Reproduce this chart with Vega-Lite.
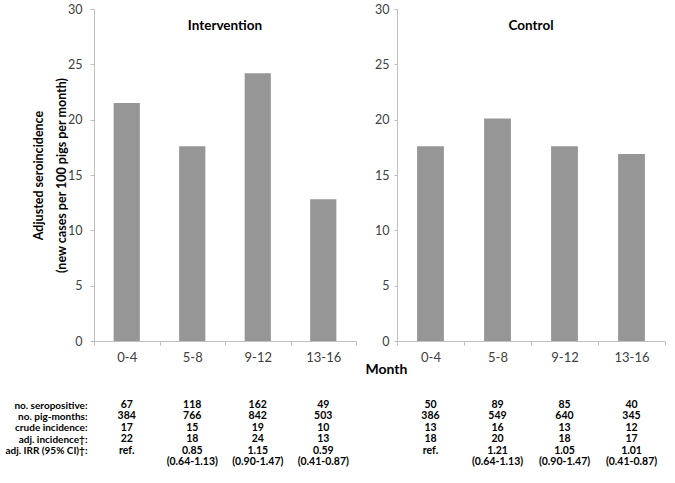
{
  "$schema": "https://vega.github.io/schema/vega-lite/v6.json",
  "padding": {"left": 4, "top": 3, "right": 5, "bottom": 5},
  "background": "white",
  "bounds": "flush",
  "spacing": 41,
  "config": {
    "font": "Lato",
    "view": {"stroke": null},
    "axis": {"grid": false, "domainColor": "#BFBFBF", "tickColor": "#BFBFBF", "labelColor": "#404040", "labelFont": "Lato", "titleFont": "Lato"},
    "title": {"font": "Lato"}
  },
  "datasets": {
    "bars": [
      {"group": "Intervention", "month": "0-4", "value": 21.5},
      {"group": "Intervention", "month": "5-8", "value": 17.6},
      {"group": "Intervention", "month": "9-12", "value": 24.2},
      {"group": "Intervention", "month": "13-16", "value": 12.8},
      {"group": "Control", "month": "0-4", "value": 17.6},
      {"group": "Control", "month": "5-8", "value": 20.1},
      {"group": "Control", "month": "9-12", "value": 17.6},
      {"group": "Control", "month": "13-16", "value": 16.9}
    ],
    "table": [
      {"group": "Intervention", "row": "no. seropositive:", "month": "0-4", "text": "67"},
      {"group": "Intervention", "row": "no. seropositive:", "month": "5-8", "text": "118"},
      {"group": "Intervention", "row": "no. seropositive:", "month": "9-12", "text": "162"},
      {"group": "Intervention", "row": "no. seropositive:", "month": "13-16", "text": "49"},
      {"group": "Intervention", "row": "no. pig-months:", "month": "0-4", "text": "384"},
      {"group": "Intervention", "row": "no. pig-months:", "month": "5-8", "text": "766"},
      {"group": "Intervention", "row": "no. pig-months:", "month": "9-12", "text": "842"},
      {"group": "Intervention", "row": "no. pig-months:", "month": "13-16", "text": "503"},
      {"group": "Intervention", "row": "crude incidence:", "month": "0-4", "text": "17"},
      {"group": "Intervention", "row": "crude incidence:", "month": "5-8", "text": "15"},
      {"group": "Intervention", "row": "crude incidence:", "month": "9-12", "text": "19"},
      {"group": "Intervention", "row": "crude incidence:", "month": "13-16", "text": "10"},
      {"group": "Intervention", "row": "adj. incidence†:", "month": "0-4", "text": "22"},
      {"group": "Intervention", "row": "adj. incidence†:", "month": "5-8", "text": "18"},
      {"group": "Intervention", "row": "adj. incidence†:", "month": "9-12", "text": "24"},
      {"group": "Intervention", "row": "adj. incidence†:", "month": "13-16", "text": "13"},
      {"group": "Intervention", "row": "adj. IRR (95% CI)†:", "month": "0-4", "text": "ref."},
      {"group": "Intervention", "row": "adj. IRR (95% CI)†:", "month": "5-8", "text": "0.85"},
      {"group": "Intervention", "row": "adj. IRR (95% CI)†:", "month": "9-12", "text": "1.15"},
      {"group": "Intervention", "row": "adj. IRR (95% CI)†:", "month": "13-16", "text": "0.59"},
      {"group": "Intervention", "row": "ci", "month": "5-8", "text": "(0.64-1.13)"},
      {"group": "Intervention", "row": "ci", "month": "9-12", "text": "(0.90-1.47)"},
      {"group": "Intervention", "row": "ci", "month": "13-16", "text": "(0.41-0.87)"},
      {"group": "Control", "row": "no. seropositive:", "month": "0-4", "text": "50"},
      {"group": "Control", "row": "no. seropositive:", "month": "5-8", "text": "89"},
      {"group": "Control", "row": "no. seropositive:", "month": "9-12", "text": "85"},
      {"group": "Control", "row": "no. seropositive:", "month": "13-16", "text": "40"},
      {"group": "Control", "row": "no. pig-months:", "month": "0-4", "text": "386"},
      {"group": "Control", "row": "no. pig-months:", "month": "5-8", "text": "549"},
      {"group": "Control", "row": "no. pig-months:", "month": "9-12", "text": "640"},
      {"group": "Control", "row": "no. pig-months:", "month": "13-16", "text": "345"},
      {"group": "Control", "row": "crude incidence:", "month": "0-4", "text": "13"},
      {"group": "Control", "row": "crude incidence:", "month": "5-8", "text": "16"},
      {"group": "Control", "row": "crude incidence:", "month": "9-12", "text": "13"},
      {"group": "Control", "row": "crude incidence:", "month": "13-16", "text": "12"},
      {"group": "Control", "row": "adj. incidence†:", "month": "0-4", "text": "18"},
      {"group": "Control", "row": "adj. incidence†:", "month": "5-8", "text": "20"},
      {"group": "Control", "row": "adj. incidence†:", "month": "9-12", "text": "18"},
      {"group": "Control", "row": "adj. incidence†:", "month": "13-16", "text": "17"},
      {"group": "Control", "row": "adj. IRR (95% CI)†:", "month": "0-4", "text": "ref."},
      {"group": "Control", "row": "adj. IRR (95% CI)†:", "month": "5-8", "text": "1.21"},
      {"group": "Control", "row": "adj. IRR (95% CI)†:", "month": "9-12", "text": "1.05"},
      {"group": "Control", "row": "adj. IRR (95% CI)†:", "month": "13-16", "text": "1.01"},
      {"group": "Control", "row": "ci", "month": "5-8", "text": "(0.64-1.13)"},
      {"group": "Control", "row": "ci", "month": "9-12", "text": "(0.90-1.47)"},
      {"group": "Control", "row": "ci", "month": "13-16", "text": "(0.41-0.87)"}
    ]
  },
  "hconcat": [
    {
      "width": 262,
      "height": 332,
      "title": {"text": "Intervention", "offset": -36, "fontSize": 13.5, "fontWeight": "bold", "color": "black", "anchor": "middle", "frame": "group", "baseline": "middle"},
      "layer": [
        {
          "data": {"name": "bars"},
          "transform": [{"filter": "datum.group == 'Intervention'"}],
          "mark": {"type": "bar", "color": "#969696", "width": {"band": 0.4}},
          "encoding": {
            "x": {"field": "month", "type": "nominal", "sort": ["0-4", "5-8", "9-12", "13-16"], "scale": {"paddingInner": 0, "paddingOuter": 0},
              "axis": {"title": null, "labelAngle": 0, "labelFontSize": 13, "labelPadding": 6, "tickSize": 4, "tickBand": "extent"}},
            "y": {"field": "value", "type": "quantitative", "scale": {"domain": [0, 30]},
              "axis": {"values": [0, 5, 10, 15, 20, 25, 30], "labelFontSize": 12.5, "labelPadding": 8, "tickSize": 4,
                "title": ["Adjusted seroincidence", "(new cases per 100 pigs per month)"], "titleFontSize": 12.5, "titleFontWeight": "bold", "titleColor": "black", "titlePadding": -1, "titleLineHeight": 23}}
          }
        },
        {
          "data": {"name": "table"},
          "transform": [{"filter": "datum.group == 'Intervention'"}],
          "mark": {"type": "text", "fontWeight": "bold", "fontSize": 10.5, "color": "black", "font": "Lato"},
          "encoding": {
            "x": {"field": "month", "type": "nominal", "sort": ["0-4", "5-8", "9-12", "13-16"]},
            "y": {"field": "row", "type": "ordinal",
              "scale": {"type": "point", "domain": ["no. seropositive:", "no. pig-months:", "crude incidence:", "adj. incidence†:", "adj. IRR (95% CI)†:", "ci"], "range": [396, 453], "padding": 0},
              "axis": {"orient": "left", "title": null, "domain": false, "ticks": false, "labelPadding": 7, "labelFontSize": 10, "labelFontWeight": "bold", "labelColor": "black", "labelExpr": "datum.value == 'ci' ? '' : datum.value"}},
            "text": {"field": "text"}
          }
        }
      ],
      "resolve": {"scale": {"y": "independent"}, "axis": {"y": "independent"}}
    },
    {
      "width": 268,
      "height": 332,
      "title": {"text": "Control", "offset": -36, "fontSize": 13.5, "fontWeight": "bold", "color": "black", "anchor": "middle", "frame": "group", "baseline": "middle"},
      "layer": [
        {
          "data": {"name": "bars"},
          "transform": [{"filter": "datum.group == 'Control'"}],
          "mark": {"type": "bar", "color": "#969696", "width": {"band": 0.4}},
          "encoding": {
            "x": {"field": "month", "type": "nominal", "sort": ["0-4", "5-8", "9-12", "13-16"], "scale": {"paddingInner": 0, "paddingOuter": 0},
              "axis": {"title": "Month", "titleX": -11, "titleY": 28, "titleBaseline": "middle", "titleAlign": "center", "titleFontSize": 14, "titleFontWeight": "bold", "titleColor": "black",
                "labelAngle": 0, "labelFontSize": 13, "labelPadding": 6, "tickSize": 4, "tickBand": "extent"}},
            "y": {"field": "value", "type": "quantitative", "scale": {"domain": [0, 30]},
              "axis": {"values": [0, 5, 10, 15, 20, 25, 30], "labelFontSize": 12.5, "labelPadding": 5, "tickSize": 3, "title": null}}
          }
        },
        {
          "data": {"name": "table"},
          "transform": [{"filter": "datum.group == 'Control'"}],
          "mark": {"type": "text", "fontWeight": "bold", "fontSize": 10.5, "color": "black", "font": "Lato"},
          "encoding": {
            "x": {"field": "month", "type": "nominal", "sort": ["0-4", "5-8", "9-12", "13-16"]},
            "y": {"field": "row", "type": "ordinal",
              "scale": {"type": "point", "domain": ["no. seropositive:", "no. pig-months:", "crude incidence:", "adj. incidence†:", "adj. IRR (95% CI)†:", "ci"], "range": [396, 453], "padding": 0},
              "axis": null},
            "text": {"field": "text"}
          }
        }
      ],
      "resolve": {"scale": {"y": "independent"}, "axis": {"y": "independent"}}
    }
  ]
}
